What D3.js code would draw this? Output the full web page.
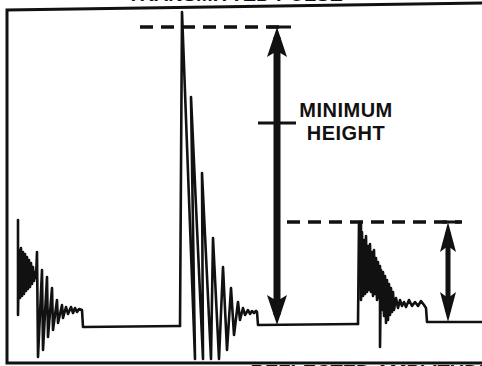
<!DOCTYPE html>
<meta charset="utf-8">
<style>
body { margin: 0; background: #fff; }
svg { display: block; }
.trace { fill: none; stroke: #111; stroke-width: 2.6; stroke-linejoin: round; stroke-linecap: round; }
.dash { fill: none; stroke: #111; stroke-width: 3.5; stroke-dasharray: 13,8; }
.frame { fill: none; stroke: #111; stroke-width: 3; }
.label { font-family: "Liberation Sans", Arial, sans-serif; font-weight: bold; font-size: 20px; fill: #111; }
</style>
<svg width="482" height="366"></svg>
<script src="https://cdn.jsdelivr.net/npm/d3@7"></script>
<script>

// sweep position (t) and amplitude above the baseline (a)
var leftEcho = [[18,105],[18,10],[19,75],[20,27],[21,77],[22,29],[23,73],[24,31],[25,71],[26,34],
  [27,68],[28,36],[29,65],[30,38],[31,62],[32,41],[33,58],[34,44],[35,53],[36,47],[37,73],[38,-32],
  [42,55],[43,-25],[47,48],[48,-12],[52,37],[53,-5],[57,25],[58,2],[62,20],[63,7],[66,18],[68,11],
  [71,18],[73,12],[75,17],[77,13],[79,16],[82,15],[83,-2],[180,-1]];

var mainPulse = [[180,-1],[182,313],[195,-34],[191,228],[203,-34],[202,152],[211,-34],[213,87],
  [219,-34],[223,58],[227,-25],[231,37],[234,-10],[238,23],[240,5],[243,17],[245,10],[248,15],
  [250,11],[252,14],[254,12],[256,14],[257,13],[258,0],[358,1]];

var rightEcho = [[358,1],[359,103],[361,103],[361,25],[362,93],[363,29],[364,85],[365,31],[366,89],
  [367,33],[368,79],[369,35],[370,81],[371,33],[372,73],[373,29],[374,75],[375,31],[376,67],[377,25],
  [378,63],[379,27],[380,59],[380,-22],[381,55],[382,15],[383,53],[384,9],[385,49],[386,2],[387,45],
  [388,5],[389,41],[390,10],[391,37],[392,13],[393,33],[394,15],[396,27],[398,17],[400,25],[402,19],
  [404,23],[406,18],[409,25],[412,19],[415,23],[418,19],[421,24],[424,20],[426,17],[427,3],[482,3]];

// reference levels: [t start, t end, amplitude]
var levels = [[140,285,298],[287,462,103]];
// double arrows: [t, bottom amplitude, top amplitude]
var arrows = [[277,0,298,7,10],[448,3,103,5,8]];
var labelLines = ["MINIMUM", "HEIGHT"];

var svg = d3.select("svg"),
    width = +svg.attr("width"),
    height = +svg.attr("height");

var x = d3.scaleLinear().domain([0, 482]).range([0, width]);
var y = d3.scaleLinear().domain([-41, 325]).range([height, 0]);

var line = d3.line().x(function(d) { return x(d[0]); }).y(function(d) { return y(d[1]); });

// frame of the scope face
svg.append("path").attr("class", "frame")
  .attr("d", line([[482,322],[7,315],[7,-38],[482,-38]]));

// captions, cut by the edges of the scan
svg.append("text").attr("class", "label")
  .attr("x", x(235)).attr("y", y(324)).attr("text-anchor", "middle")
  .attr("font-size", "14px").text("TRANSMITTED PULSE");
svg.append("text").attr("class", "label")
  .attr("x", x(492)).attr("y", y(-54)).attr("text-anchor", "end")
  .attr("font-size", "16px").text("REFLECTED AMPLITUDE");

svg.selectAll(".trace").data([leftEcho, mainPulse, rightEcho])
  .enter().append("path").attr("class", "trace")
  .attr("d", line);

svg.selectAll(".dash").data(levels)
  .enter().append("line").attr("class", "dash")
  .attr("x1", function(d) { return x(d[0]); })
  .attr("x2", function(d) { return x(d[1]); })
  .attr("y1", function(d) { return y(d[2]); })
  .attr("y2", function(d) { return y(d[2]); });

arrows.forEach(function(d) {
  var cx = x(d[0]), y0 = y(d[1]), y1 = y(d[2]), w = d[3], hw = d[4], hl = 30;
  svg.append("line").attr("x1", cx - hw + 2).attr("x2", cx + hw + 4)
    .attr("y1", y1).attr("y2", y1).attr("stroke", "#111").attr("stroke-width", 3);
  svg.append("rect").attr("x", cx - w / 2).attr("y", y1 + 10).attr("width", w)
    .attr("height", y0 - y1 - 20).attr("fill", "#111");
  svg.append("path").attr("fill", "#111")
    .attr("d", "M" + cx + "," + y1 + "L" + (cx + hw) + "," + (y1 + hl) + "L" + cx + "," + (y1 + hl - 6) +
      "L" + (cx - hw) + "," + (y1 + hl) + "Z");
  svg.append("path").attr("fill", "#111")
    .attr("d", "M" + cx + "," + y0 + "L" + (cx + hw) + "," + (y0 - hl) + "L" + cx + "," + (y0 - hl + 6) +
      "L" + (cx - hw) + "," + (y0 - hl) + "Z");
});

// tick across the big arrow
svg.append("line").attr("x1", x(258)).attr("x2", x(296))
  .attr("y1", y(202)).attr("y2", y(202)).attr("stroke", "#111").attr("stroke-width", 3);

svg.selectAll(".lbl").data(labelLines)
  .enter().append("text").attr("class", "label")
  .attr("x", x(346)).attr("text-anchor", "middle")
  .attr("letter-spacing", "0.5px")
  .attr("y", function(d, i) { return y(208) + i * 23; })
  .text(function(d) { return d; });

</script>
